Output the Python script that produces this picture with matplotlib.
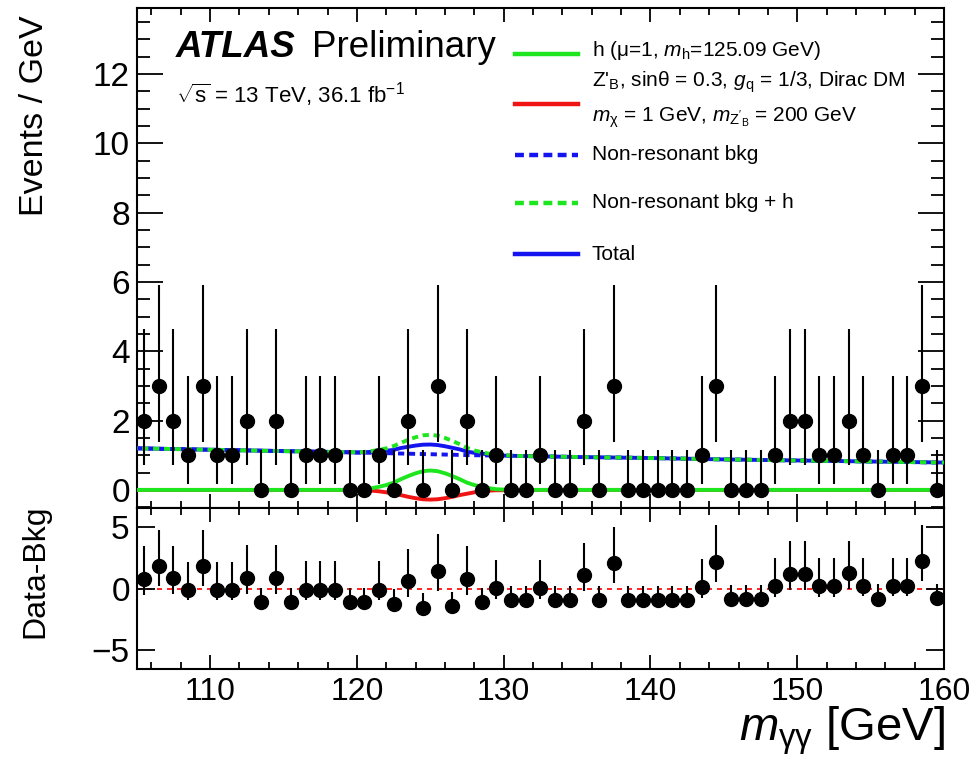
"""ATLAS diphoton spectrum with Higgs + Z'_B dark-matter signal, and Data-Bkg ratio pad."""

import matplotlib

matplotlib.use("Agg")
import matplotlib.pyplot as plt
import numpy as np
from matplotlib.ticker import MultipleLocator, NullLocator

plt.rcParams["font.family"] = ["Liberation Sans", "DejaVu Sans"]
plt.rcParams["mathtext.fontset"] = "custom"
plt.rcParams["mathtext.rm"] = "Liberation Sans"
plt.rcParams["mathtext.it"] = "Liberation Sans:italic"
plt.rcParams["mathtext.bf"] = "Liberation Sans:bold"

# ---- data (1 GeV bins, 105-160 GeV) ----
MASS = np.arange(105.5, 160.0, 1.0)
COUNTS = [2, 3, 2, 1, 3, 1, 1, 2, 0, 2,
          0, 1, 1, 1, 0, 0, 1, 0, 2, 0,
          3, 0, 2, 0, 1, 0, 0, 1, 0, 0,
          2, 0, 3, 0, 0, 0, 0, 0, 1, 3,
          0, 0, 0, 1, 2, 2, 1, 1, 2, 1,
          0, 1, 1, 3, 0]
# poisson interval (low, high) per observed count, as drawn
POIS = {0: (0.0, 1.15), 1: (0.17, 3.30), 2: (0.71, 4.64), 3: (1.37, 5.92)}

DIFF = [0.81, 1.83, 0.82, -0.12, 1.85, -0.12, -0.12, 0.89, -1.11, 0.89,
        -1.10, -0.10, -0.10, -0.10, -1.10, -1.10, -0.10, -1.22, 0.59, -1.54,
        1.46, -1.44, 0.81, -1.06, 0.02, -0.95, -0.95, 0.02, -0.95, -0.95,
        1.08, -0.93, 2.10, -0.92, -0.92, -0.92, -0.90, -0.90, 0.10, 2.19,
        -0.84, -0.84, -0.84, 0.19, 1.19, 1.19, 0.19, 0.19, 1.24, 0.20,
        -0.81, 0.20, 0.20, 2.24, -0.79]

# ---- fitted curves ----
CURVE_X = [105, 110, 115, 119, 120, 120.5, 121, 121.5, 122, 122.5, 123, 123.5,
           124, 124.5, 125, 125.5, 126, 126.5, 127, 127.5, 128, 128.5, 129,
           129.5, 130, 131, 135, 140, 145, 150, 155, 160]
BKG = [1.20, 1.16, 1.12, 1.09, 1.08, 1.075, 1.07, 1.065, 1.06, 1.055, 1.05, 1.045,
       1.04, 1.035, 1.03, 1.025, 1.02, 1.015, 1.01, 1.005, 1.00, 0.998, 0.995,
       0.992, 0.99, 0.98, 0.95, 0.92, 0.88, 0.85, 0.82, 0.79]
HIGGS = [0, 0, 0, 0, 0.01, 0.02, 0.05, 0.09, 0.14, 0.21, 0.31, 0.40,
         0.48, 0.54, 0.56, 0.54, 0.48, 0.40, 0.31, 0.21, 0.14, 0.09, 0.05,
         0.02, 0.01, 0, 0, 0, 0, 0, 0, 0]
ZPRIME = [0, 0, 0, 0, -0.01, -0.01, -0.02, -0.04, -0.07, -0.11, -0.15, -0.20,
          -0.24, -0.27, -0.28, -0.27, -0.24, -0.20, -0.15, -0.11, -0.07, -0.04, -0.02,
          -0.01, -0.01, 0, 0, 0, 0, 0, 0, 0]

GREEN = "#1ee61e"
RED = "#f01414"
BLUE = "#1414f0"
LW = 2.8


def main():
    lo = np.array([COUNTS[i] - POIS[c][0] for i, c in enumerate(COUNTS)])
    hi = np.array([POIS[c][1] - COUNTS[i] for i, c in enumerate(COUNTS)])
    bkg = np.array(BKG)
    higgs = np.array(HIGGS)
    zp = np.array(ZPRIME)

    fig = plt.figure(figsize=(9.76, 7.61), dpi=100)
    ax = fig.add_axes([0.1401, 0.3321, 0.8271, 0.6570])
    axr = fig.add_axes([0.1401, 0.1209, 0.8271, 0.2112], sharex=ax)

    # main pad
    ax.plot(CURVE_X, bkg + higgs + zp, "-", color=BLUE, lw=LW, zorder=2)
    ax.plot(CURVE_X, bkg, color=BLUE, lw=LW, ls=(0, (1.6, 1.2)), zorder=3)
    ax.plot(CURVE_X, bkg + higgs, color=GREEN, lw=LW, ls=(1.4, (1.6, 1.2)), zorder=3)
    ax.plot(CURVE_X, zp, "-", color=RED, lw=LW, zorder=2)
    ax.plot(CURVE_X, higgs, "-", color=GREEN, lw=LW, zorder=3)
    ax.errorbar(MASS, COUNTS, yerr=[lo, hi], fmt="o", color="black", ms=10,
                elinewidth=1.5, capsize=0, zorder=5)
    ax.set_xlim(105, 160)
    ax.set_ylim(-0.53, 13.9)

    # ratio pad
    axr.axhline(0, color="#ff0000", lw=1.2, ls=(0, (3, 3)), zorder=1)
    axr.errorbar(MASS, DIFF, yerr=[lo, hi], fmt="o", color="black", ms=10,
                 elinewidth=1.5, capsize=0, zorder=5)
    axr.set_ylim(-6.5, 6.5)

    for a in (ax, axr):
        a.tick_params(which="both", direction="in", top=True, right=True, width=1.3)
        for s in a.spines.values():
            s.set_linewidth(1.5)
    ax.xaxis.set_major_locator(MultipleLocator(10))
    ax.xaxis.set_minor_locator(MultipleLocator(2))
    ax.yaxis.set_major_locator(MultipleLocator(2))
    ax.yaxis.set_minor_locator(MultipleLocator(0.5))
    axr.yaxis.set_major_locator(MultipleLocator(5))
    axr.yaxis.set_minor_locator(NullLocator())

    ax.tick_params(axis="x", which="major", length=10, labelbottom=False)
    ax.tick_params(axis="x", which="minor", length=5)
    ax.tick_params(axis="y", which="major", length=19, labelsize=24, pad=5)
    ax.tick_params(axis="y", which="minor", length=9.5)
    axr.tick_params(axis="x", which="major", length=10, labelsize=23, pad=6)
    axr.tick_params(axis="x", which="minor", length=5)
    axr.tick_params(axis="y", which="major", length=13, labelsize=24, pad=5)

    # axis titles
    fig.text(35 / 976, 1 - 15 / 761, "Events / GeV", rotation=90, ha="center",
             va="top", fontsize=24.5)
    fig.text(35 / 976, 1 - 505 / 761, "Data-Bkg", rotation=90, ha="center",
             va="top", fontsize=23)
    fig.text(945 / 976, 1 - 731 / 761, r"$m_{\mathrm{γγ}}$ [GeV]", ha="right",
             va="center", fontsize=34)

    # ATLAS label
    def px(x, y):
        return x / 976, 1 - y / 761

    fig.text(*px(176, 57), "ATLAS", fontsize=26.5, fontweight="bold",
             fontstyle="italic", va="baseline")
    fig.text(*px(312, 57), "Preliminary", fontsize=26.5, va="baseline")
    fig.text(*px(176, 103), r"$\sqrt{\mathrm{s}}$ = 13 TeV, 36.1 fb$^{-1}$",
             fontsize=16, va="baseline")

    # legend
    entries = [
        (54, GREEN, "-"),
        (104, RED, "-"),
        (155, BLUE, (0, (2, 1.2))),
        (203, GREEN, (0, (2, 1.2))),
        (254, BLUE, "-"),
    ]
    for y, c, ls in entries:
        x0, yy = px(515, y)
        x1, _ = px(578, y)
        fig.add_artist(plt.Line2D([x0, x1], [yy, yy], color=c, lw=3.2, ls=ls,
                                  transform=fig.transFigure))
    labels = [
        (50, r"h (μ=1, $m_{\mathrm{h}}$=125.09 GeV)"),
        (82, r"Z'$_{\mathrm{B}}$, sinθ = 0.3, $g_{\mathrm{q}}$ = 1/3, Dirac DM"),
        (118, r"$m_{\mathrm{χ}}$ = 1 GeV, $m_{\mathrm{Z'_{B}}}$ = 200 GeV"),
        (155, "Non-resonant bkg"),
        (203, "Non-resonant bkg + h"),
        (255, "Total"),
    ]
    for y, t in labels:
        fig.text(*px(592, y), t, fontsize=15, va="center")

    fig.savefig("out.png", dpi=100)


if __name__ == "__main__":
    main()
